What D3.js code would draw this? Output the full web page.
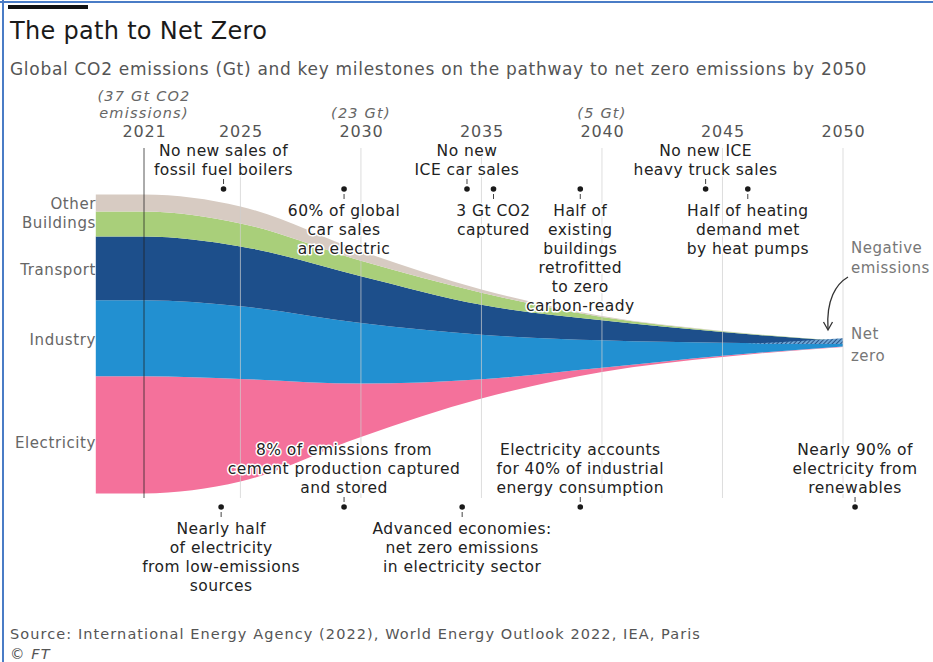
<!DOCTYPE html>
<html>
<head>
<meta charset="utf-8">
<script src="https://cdn.jsdelivr.net/npm/d3@7"></script>
<style>
  body { margin: 0; background: #fff; }
  svg { display: block; font-family: "DejaVu Sans", "Open Sans", sans-serif; }
</style>
</head>
<body>
<svg id="chart" width="933" height="662"></svg>
<script>
// Global CO2 emissions by sector, Gt (IEA Net Zero pathway)
const years       = [2019, 2021, 2025, 2030, 2035, 2040, 2045, 2050];
const electricity = [14.5, 14.5, 12.7, 6.6, 2.4, 0.5, 0.15, 0.05];
const industry    = [9.4, 9.4, 9.0, 7.5, 5.5, 3.4, 1.6, 0.35];
const transport   = [7.9, 7.9, 7.4, 5.8, 3.7, 2.5, 1.35, 0.3];
const buildings   = [3.1, 3.1, 2.85, 1.9, 1.5, 0.4, 0.1, 0.02];
const other       = [2.1, 2.1, 2.1, 1.2, 0.4, 0.1, 0.02, 0.0];

// removals shown as a hatched wedge where the stream closes
const removalYears  = [2046, 2048, 2050];
const removalValues = [0, 0.35, 0.7];

const sectorNames  = ["Electricity", "Industry", "Transport", "Buildings", "Other"];
const sectorColors = ["#f4719b", "#2290d1", "#1d4f8b", "#a9cf7a", "#d7cbc2"];

const tickYears  = [2021, 2025, 2030, 2035, 2040, 2045, 2050];
const totalNotes = [
  { year: 2021, lines: ["(37 Gt CO2", "emissions)"] },
  { year: 2030, lines: ["(23 Gt)"] },
  { year: 2040, lines: ["(5 Gt)"] }
];

// milestones above the stream (text sits above or below the dot)
const topNotes = [
  { year: 2024.3, lines: ["No new sales of", "fossil fuel boilers"], where: "above" },
  { year: 2029.3, lines: ["60% of global", "car sales", "are electric"], where: "below" },
  { year: 2034.4, lines: ["No new", "ICE car sales"], where: "above" },
  { year: 2035.5, lines: ["3 Gt CO2", "captured"], where: "below" },
  { year: 2039.1, lines: ["Half of", "existing", "buildings", "retrofitted", "to zero", "carbon-ready"], where: "below" },
  { year: 2044.3, lines: ["No new ICE", "heavy truck sales"], where: "above" },
  { year: 2046.05, lines: ["Half of heating", "demand met", "by heat pumps"], where: "below" }
];
// milestones under the stream
const bottomNotes = [
  { year: 2024.2, lines: ["Nearly half", "of electricity", "from low-emissions", "sources"], where: "below" },
  { year: 2029.3, lines: ["8% of emissions from", "cement production captured", "and stored"], where: "above" },
  { year: 2034.2, lines: ["Advanced economies:", "net zero emissions", "in electricity sector"], where: "below" },
  { year: 2039.1, lines: ["Electricity accounts", "for 40% of industrial", "energy consumption"], where: "above" },
  { year: 2050.5, lines: ["Nearly 90% of", "electricity from", "renewables"], where: "above" }
];

const rows = years.map((y, i) => ({
  year: y,
  Electricity: electricity[i],
  Industry: industry[i],
  Transport: transport[i],
  Buildings: buildings[i],
  Other: other[i]
}));

const svg = d3.select("#chart");

// frame
svg.append("line").attr("x1", 3).attr("x2", 3).attr("y1", 0).attr("y2", 662)
  .attr("stroke", "#4a7cc6").attr("stroke-width", 2);
svg.append("line").attr("x1", 0).attr("x2", 933).attr("y1", 2).attr("y2", 2)
  .attr("stroke", "#4a7cc6").attr("stroke-width", 2);
svg.append("rect").attr("x", 8).attr("y", 5).attr("width", 80).attr("height", 4).attr("fill", "#111");

// headings
svg.append("text").attr("x", 10).attr("y", 39).attr("font-size", 24).attr("letter-spacing", 0.3)
  .attr("fill", "#1a1a1a").text("The path to Net Zero");
svg.append("text").attr("x", 10).attr("y", 75).attr("font-size", 17).attr("letter-spacing", 0.7)
  .attr("fill", "#555")
  .text("Global CO2 emissions (Gt) and key milestones on the pathway to net zero emissions by 2050");

const x = d3.scaleLinear().domain([2021, 2050]).range([144, 843]);
const y = d3.scaleLinear().domain([0, 1]).range([344, 335.92]);

const stack = d3.stack().keys(sectorNames).offset(d3.stackOffsetSilhouette);
const series = stack(rows);

const area = d3.area()
  .x(d => x(d.data.year))
  .y0(d => y(d[0]))
  .y1(d => y(d[1]))
  .curve(d3.curveMonotoneX);

svg.append("g").selectAll("path").data(series).join("path")
  .attr("d", area)
  .attr("fill", (d, i) => sectorColors[i]);

// hatched wedge for negative emissions
const defs = svg.append("defs");
const pat = defs.append("pattern").attr("id", "hatch").attr("patternUnits", "userSpaceOnUse")
  .attr("width", 3).attr("height", 3).attr("patternTransform", "rotate(45)");
pat.append("rect").attr("width", 3).attr("height", 3).attr("fill", "#6fa6d6");
pat.append("line").attr("x1", 0).attr("y1", 0).attr("x2", 0).attr("y2", 3)
  .attr("stroke", "#163f72").attr("stroke-width", 1.6);
const removalArea = d3.area()
  .x((d, i) => x(removalYears[i]))
  .y0(() => y(0))
  .y1(d => y(d))
  .curve(d3.curveMonotoneX);
svg.append("path").datum(removalValues).attr("d", removalArea).attr("fill", "url(#hatch)");

// year gridlines over the stream
svg.append("g").selectAll("line").data(tickYears).join("line")
  .attr("x1", d => x(d)).attr("x2", d => x(d))
  .attr("y1", 148).attr("y2", 498)
  .attr("stroke", d => d === 2021 ? "#222" : "#cfcfcf")
  .attr("stroke-opacity", d => d === 2021 ? 0.75 : 0.7)
  .attr("stroke-width", 1);

// x axis labels along the top
const axis = d3.axisTop(x).tickValues(tickYears).tickFormat(d3.format("d")).tickSize(0).tickPadding(0);
const axisG = svg.append("g").attr("transform", "translate(0,137)").call(axis);
axisG.select(".domain").remove();
axisG.selectAll("text").attr("font-size", 16).attr("letter-spacing", 0.8).attr("fill", "#555")
  .attr("font-family", "DejaVu Sans, sans-serif").attr("dy", 0);

svg.append("g").selectAll("text").data(totalNotes).join("text")
  .attr("text-anchor", "middle").attr("font-size", 14.5).attr("letter-spacing", 1.2)
  .attr("font-style", "italic").attr("fill", "#666")
  .each(function (d) {
    const n = d.lines.length;
    d3.select(this).selectAll("tspan").data(d.lines).join("tspan")
      .attr("x", x(d.year))
      .attr("y", (t, i) => 118 - (n - 1 - i) * 17)
      .text(t => t);
  });

// sector labels on the left, next to the start of each band
const labelShift = { Other: 0, Buildings: -1.5, Transport: 1, Industry: 1, Electricity: 7.5 };
svg.append("g").selectAll("text").data(series).join("text")
  .attr("x", 96).attr("text-anchor", "end").attr("font-size", 15).attr("letter-spacing", 0.6)
  .attr("fill", "#666")
  .attr("y", s => y((s[0][0] + s[0][1]) / 2) + labelShift[s.key] + 5.5)
  .text(s => s.key);

// milestone annotations
function drawNotes(notes, dotY) {
  const g = svg.append("g");
  notes.forEach(n => {
    const cx = x(n.year);
    const lh = 19;
    let firstBase;
    if (n.where === "above") {
      firstBase = dotY - 14.5 - (n.lines.length - 1) * lh;
      g.append("line").attr("x1", cx).attr("x2", cx).attr("y1", dotY - 10).attr("y2", dotY - 5)
        .attr("stroke", "#444").attr("stroke-width", 1);
    } else {
      firstBase = dotY + 27;
      g.append("line").attr("x1", cx).attr("x2", cx).attr("y1", dotY + 5).attr("y2", dotY + 10)
        .attr("stroke", "#444").attr("stroke-width", 1);
    }
    g.append("circle").attr("cx", cx).attr("cy", dotY).attr("r", 2.8).attr("fill", "#1a1a1a");
    const t = g.append("text").attr("text-anchor", "middle").attr("font-size", 15.5)
      .attr("letter-spacing", 0.45).attr("fill", "#222")
      .attr("stroke", "#fff").attr("stroke-width", 3).attr("stroke-linejoin", "round")
      .attr("paint-order", "stroke");
    n.lines.forEach((line, i) => {
      t.append("tspan").attr("x", cx).attr("y", firstBase + i * lh).text(line);
    });
  });
}
drawNotes(topNotes, 189);
drawNotes(bottomNotes, 507);

// right-hand labels
const rightLabels = [
  { lines: ["Negative", "emissions"], y0: 252.5, gap: 20 },
  { lines: ["Net", "zero"], y0: 338.5, gap: 22 }
];
rightLabels.forEach(r => {
  const t = svg.append("text").attr("font-size", 15).attr("letter-spacing", 0.5).attr("fill", "#777");
  r.lines.forEach((line, i) => t.append("tspan").attr("x", 851).attr("y", r.y0 + i * r.gap).text(line));
});

// curved arrow towards the end of the stream
svg.append("path")
  .attr("d", "M848,277 C836,284 826,300 828,329")
  .attr("fill", "none").attr("stroke", "#333").attr("stroke-width", 1.3);
svg.append("path")
  .attr("d", "M823.5,322 L828,330 L832.5,322")
  .attr("fill", "none").attr("stroke", "#333").attr("stroke-width", 1.3);

// source
svg.append("text").attr("x", 10).attr("y", 639).attr("font-size", 14.5).attr("letter-spacing", 1.08)
  .attr("fill", "#555")
  .text("Source: International Energy Agency (2022), World Energy Outlook 2022, IEA, Paris");
svg.append("text").attr("x", 10).attr("y", 659).attr("font-size", 14.5).attr("letter-spacing", 1.08)
  .attr("fill", "#555").attr("font-style", "italic").text("© FT");
</script>
</body>
</html>
